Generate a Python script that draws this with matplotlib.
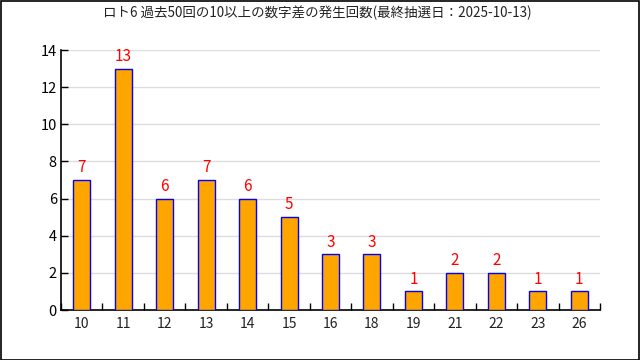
import matplotlib
matplotlib.use("Agg")
import matplotlib.pyplot as plt
from matplotlib.patches import Rectangle

plt.rcParams['font.family'] = ['Noto Sans CJK JP', 'DejaVu Sans']

categories = ['10', '11', '12', '13', '14', '15', '16', '18', '19', '21', '22', '23', '26']
counts = [7, 13, 6, 7, 6, 5, 3, 3, 1, 2, 2, 1, 1]
title = 'ロト6 過去50回の10以上の数字差の発生回数(最終抽選日：2025-10-13)'

fig = plt.figure(figsize=(6.4, 3.6), dpi=100)
ax = fig.add_axes([61/640, 1 - 310/360, (600-61)/640, 260/360])

x = list(range(len(categories)))
ax.bar(x, counts, width=0.41, color='#FFA500', edgecolor='#0000FF', linewidth=1, zorder=3)
for xi, c in zip(x, counts):
    ax.text(xi, c + 0.2, str(c), ha='center', va='bottom', color='#FF0000', fontsize=11, zorder=4)

ax.set_xlim(-0.5, len(categories) - 0.5)
ax.set_ylim(0, 14)
ax.set_yticks(range(0, 15, 2))
ax.set_xticks(x)
ax.set_xticklabels(categories)
ax.set_xticks([i - 0.5 for i in range(len(categories) + 1)], minor=True)
ax.tick_params(axis='x', which='major', length=0, labelsize=10, pad=5, colors='#222222')
ax.tick_params(axis='x', which='minor', direction='in', length=5, width=1, color='black')
ax.tick_params(axis='y', direction='in', length=5, width=1, labelsize=10.5, pad=3, colors='black')
ax.yaxis.grid(True, color='#DDDDDD', linewidth=1, zorder=0)
ax.set_axisbelow(True)
for s in ['top', 'right']:
    ax.spines[s].set_visible(False)
for s in ['left', 'bottom']:
    ax.spines[s].set_linewidth(1.2)
    ax.spines[s].set_color('black')

fig.text(317/640, 1 - 13/360, title, ha='center', va='center', fontsize=9.7, color='#222222')
fig.patches.append(Rectangle((0.5/640, 0.5/360), 1 - 1.5/640, 1 - 1.5/360, transform=fig.transFigure,
                             fill=False, edgecolor='black', linewidth=1.2))
fig.savefig('out.png', dpi=100)
